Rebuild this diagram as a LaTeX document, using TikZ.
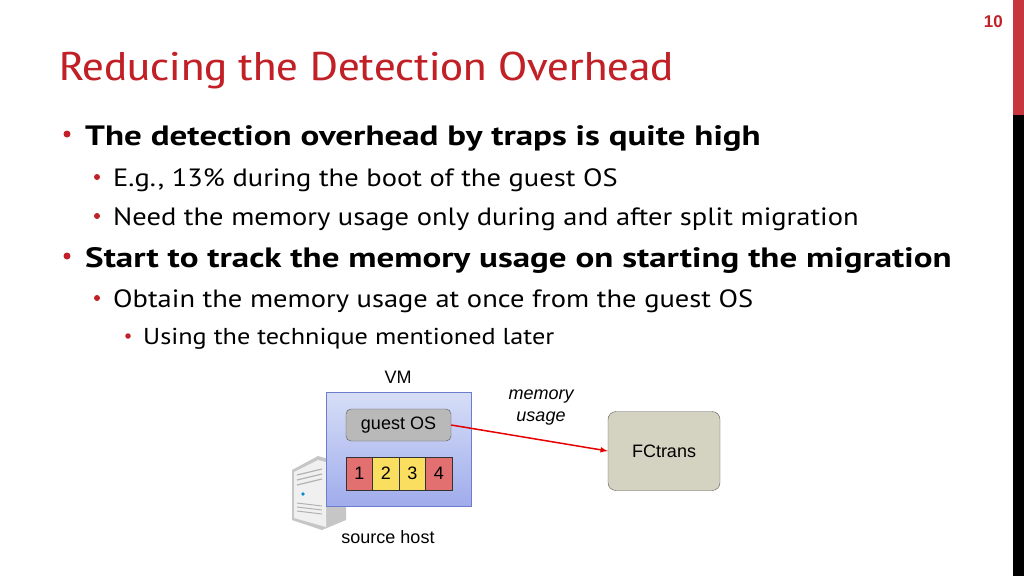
\documentclass[tikz,border=0pt]{standalone}
\usepackage{fontspec}
\setmainfont{PT Sans}
\newfontfamily\dgm{Liberation Sans}
\newfontfamily\ttl{PT Sans Narrow}[FakeStretch=1.33]
\newfontfamily\bodyf{PT Sans}[FakeStretch=1.14]
\newfontfamily\boldf{PT Sans Bold}[FakeStretch=1.25]
\begin{document}
\begin{tikzpicture}[x=1pt,y=-1pt,
  bul/.style={anchor=base west,inner sep=0pt},
  dot/.style={circle,fill=titlered,inner sep=0pt},
  cell/.style={draw=black!80,minimum width=26.5pt,minimum height=33pt,inner sep=0pt,font=\dgm\fontsize{18}{20}\selectfont},
  lbl/.style={font=\dgm\fontsize{18}{20}\selectfont,inner sep=0pt}]
\definecolor{titlered}{RGB}{192,32,38}
\definecolor{cellred}{RGB}{226,112,112}
\definecolor{cellyel}{RGB}{250,222,95}
\useasboundingbox (0,0) rectangle (1024,576);
\fill[titlered!90!white] (1013,0) rectangle (1024,115);
\fill[black] (1013,115) rectangle (1024,576);
\node[anchor=base east,text=titlered,font=\dgm\bfseries\fontsize{17}{18}\selectfont,inner sep=0pt] (pg) at (1003,27) {10};
\node[bul,text=titlered,font=\ttl\fontsize{40}{44}\selectfont] (title) at (59,80) {Reducing the Detection Overhead};
% bullets
\node[dot,minimum size=7pt] (d1) at (67,134) {};
\node[bul,font=\boldf\fontsize{28}{30}\selectfont] (t1) at (85,145) {The detection overhead by traps is quite high};
\node[dot,minimum size=6pt] (d2) at (97,177) {};
\node[bul,font=\bodyf\fontsize{25}{28}\selectfont] (t2) at (113,186) {E.g., 13\% during the boot of the guest OS};
\node[dot,minimum size=6pt] (d3) at (97,216) {};
\node[bul,font=\bodyf\fontsize{25}{28}\selectfont] (t3) at (113,225) {Need the memory usage only during and after split migration};
\node[dot,minimum size=7pt] (d4) at (67,256) {};
\node[bul,font=\boldf\fontsize{28}{30}\selectfont] (t4) at (85,267) {Start to track the memory usage on starting the migration};
\node[dot,minimum size=6pt] (d5) at (97,298) {};
\node[bul,font=\bodyf\fontsize{25}{28}\selectfont] (t5) at (113,307) {Obtain the memory usage at once from the guest OS};
\node[dot,minimum size=5.5pt] (d6) at (128,336) {};
\node[bul,font=\bodyf\fontsize{23}{26}\selectfont] (t6) at (143,344) {Using the technique mentioned later};
% server icon
\fill[gray!45] (292,470) -- (318,456) -- (346,464) -- (346,520) -- (322,530) -- (292,520) -- cycle;
\fill[gray!12] (294,472) -- (318,460) -- (326,462) -- (326,527) -- (294,518) -- cycle;
\foreach \yy in {474,479,484} \draw[gray!60,line width=1.2pt] (297,\yy+1) -- (322,\yy-5);
\foreach \yy in {503,507,511} \draw[gray!60,line width=1pt] (297,\yy) -- (322,\yy+3);
\fill[cyan!70!blue] (303,494) circle (1.8);
% VM
\shade[top color={rgb,255:red,214;green,222;blue,246},bottom color={rgb,255:red,160;green,172;blue,236}] (326,392) rectangle (471,506);
\draw[draw={rgb,255:red,110;green,124;blue,205}] (326,392) rectangle (471,506);
\node[lbl] (vm) at (398,377) {VM};
\node[draw=gray!70!black,fill=gray!55,rounded corners=5pt,minimum width=105pt,minimum height=32pt,lbl] (os) at (398.5,425) {guest OS};
\node[cell,fill=cellred] (c1) at (359.25,473.5) {1};
\node[cell,fill=cellyel] (c2) at (385.75,473.5) {2};
\node[cell,fill=cellyel] (c3) at (412.25,473.5) {3};
\node[cell,fill=cellred] (c4) at (438.75,473.5) {4};
\node[draw=gray!70!black,fill={rgb,255:red,212;green,210;blue,192},rounded corners=8pt,minimum width=112pt,minimum height=79pt,lbl] (fc) at (664,451) {FCtrans};
\draw[red!90!black,line width=1.5pt,-latex] (os.east) -- (fc.west);
\node[lbl,font=\dgm\itshape\fontsize{18}{22}\selectfont,align=center] (mu) at (541,408) {memory\\usage};
\node[lbl] (sh) at (388,537) {source host};
\end{tikzpicture}
\end{document}
